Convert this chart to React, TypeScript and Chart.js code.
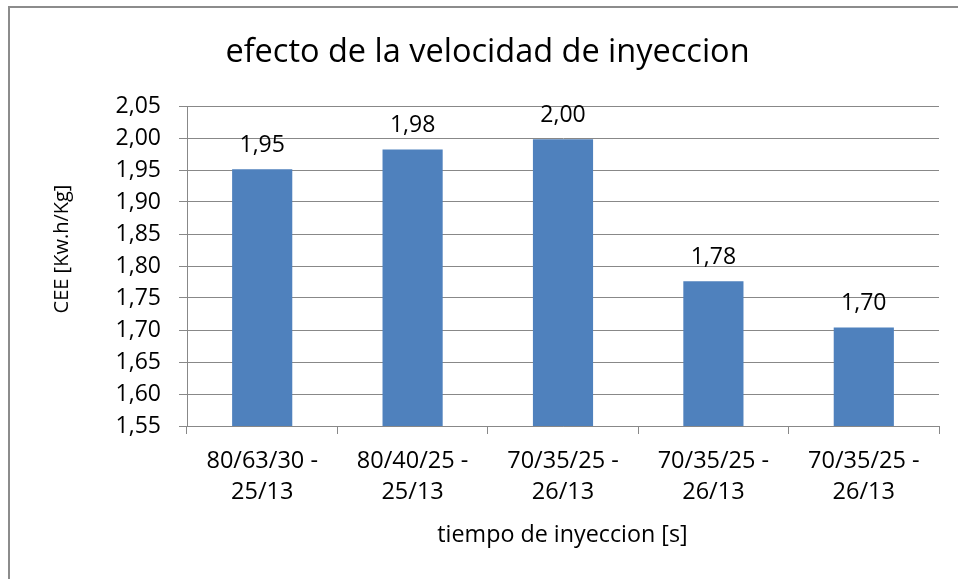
import React, { useEffect, useRef } from "react";
import { Chart, registerables } from "chart.js";

Chart.register(...registerables);

const categories: string[][] = [
  ["80/63/30 -", "25/13"],
  ["80/40/25 -", "25/13"],
  ["70/35/25 -", "26/13"],
  ["70/35/25 -", "26/13"],
  ["70/35/25 -", "26/13"],
];
const values: number[] = [1.951, 1.982, 1.998, 1.776, 1.704];
const yMin = 1.55;
const yMax = 2.05;
const yStep = 0.05;
const chartTitle = "efecto de la velocidad de inyeccion";
const yTitle = "CEE [Kw.h/Kg]";
const xTitle = "tiempo de inyeccion [s]";

const FONT = '"Open Sans", sans-serif';
const GRID = "#888888";
const BAR = "#4F81BD";

const fmt = (v: number) => v.toFixed(2).replace(".", ",");

const deco = {
  id: "deco",
  afterDatasetsDraw(chart: any) {
    const ctx = chart.ctx;
    const meta = chart.getDatasetMeta(0);
    ctx.save();
    ctx.font = `23px ${FONT}`;
    ctx.fillStyle = "#000";
    ctx.textAlign = "center";
    ctx.textBaseline = "alphabetic";
    meta.data.forEach((el: any, i: number) => {
      const p = el.getProps(["x", "y"], true);
      ctx.fillText(fmt(values[i]), p.x, p.y - 17.5);
    });
    ctx.restore();
  },
  afterDraw(chart: any) {
    const ctx = chart.ctx;
    ctx.save();
    ctx.fillStyle = "#8c8c8c";
    ctx.fillRect(8, 6, 950, 2);
    ctx.fillRect(8, 6, 2, 573);
    ctx.fillStyle = "#000";
    ctx.font = `32.5px ${FONT}`;
    ctx.textAlign = "center";
    ctx.textBaseline = "alphabetic";
    ctx.fillText(chartTitle, 487.5, 62);
    ctx.font = `23.3px ${FONT}`;
    ctx.fillText(xTitle, 562.5, 541.5);
    ctx.translate(67.5, 249);
    ctx.rotate(-Math.PI / 2);
    ctx.font = `20px ${FONT}`;
    ctx.fillText(yTitle, 0, 0);
    ctx.restore();
  },
};

export default function App() {
  const ref = useRef<HTMLCanvasElement | null>(null);
  useEffect(() => {
    if (!ref.current) return;
    const chart = new Chart(ref.current, {
      type: "bar",
      data: {
        labels: categories,
        datasets: [
          {
            data: values,
            backgroundColor: BAR,
            borderColor: BAR,
            borderWidth: 0,
            categoryPercentage: 1,
            barPercentage: 0.4,
          },
        ],
      },
      options: {
        animation: false,
        responsive: false,
        devicePixelRatio: 1,
        layout: { padding: { top: 106, left: 0, right: 19, bottom: 0 } },
        plugins: {
          legend: { display: false },
          title: { display: false },
          tooltip: { enabled: false },
        },
        scales: {
          x: {
            grid: {
              display: true,
              drawOnChartArea: false,
              drawTicks: true,
              tickLength: 8,
              color: GRID,
              lineWidth: 1,
            },
            border: { display: true, color: GRID, width: 1 },
            ticks: {
              color: "#000",
              padding: 12,
              maxRotation: 0,
              autoSkip: false,
              font: { family: FONT, size: 23.5, lineHeight: 31 / 23.5 },
            },
            afterFit(scale: any) {
              scale.height = 579 - 426;
            },
          },
          y: {
            min: yMin,
            max: yMax,
            grid: {
              color: GRID,
              lineWidth: 1,
              drawTicks: true,
              tickLength: 8,
            },
            border: { display: true, color: GRID, width: 1 },
            ticks: {
              stepSize: yStep,
              color: "#000",
              padding: 18,
              font: { family: FONT, size: 23 },
              callback: (v: any) => fmt(Number(v)),
            },
            afterFit(scale: any) {
              scale.width = 187;
            },
          },
        },
      },
      plugins: [deco],
    });
    return () => chart.destroy();
  }, []);
  return (
    <div style={{ position: "absolute", left: 0, top: 0, width: 958, height: 579, background: "#fff" }}>
      <canvas ref={ref} width={958} height={579} style={{ display: "block" }} />
    </div>
  );
}
